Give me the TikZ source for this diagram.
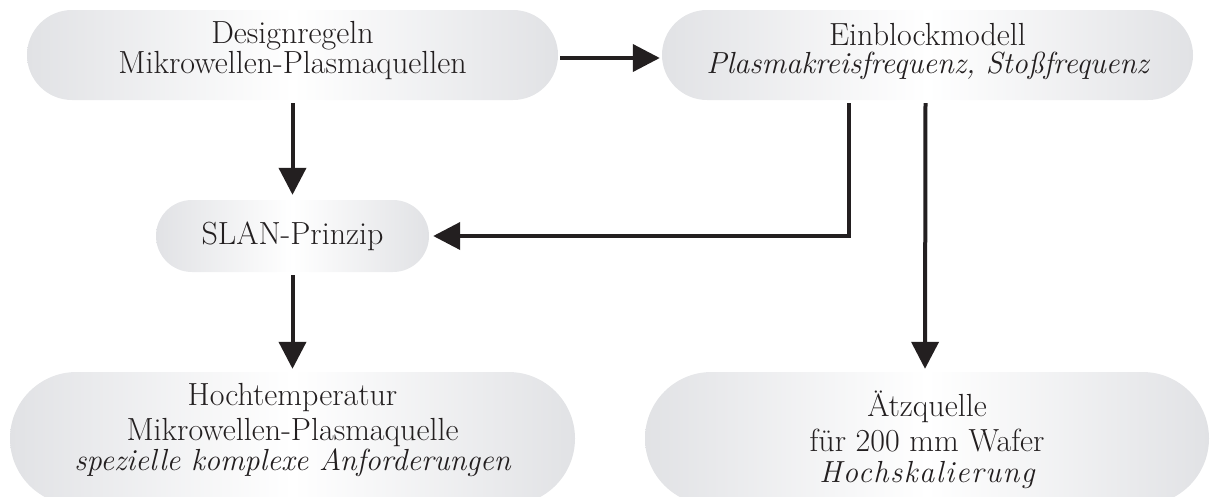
\documentclass[tikz,border=0pt]{standalone}
\usepackage{fontspec}
\usetikzlibrary{arrows.meta}
\definecolor{edgegray}{RGB}{225,226,229}
\definecolor{ink}{RGB}{35,31,32}
\newfontfamily\spacedfont[LetterSpace=5]{Latin Modern Roman}
\newcommand{\itl}{\fontsize{30.5pt}{28pt}\selectfont\itshape}
\newcommand{\itlsp}{\fontsize{30.5pt}{28pt}\spacedfont\itshape}
\tikzset{
  pill/.style={shape=rectangle, rounded corners=#1, minimum height=2*#1,
    left color=edgegray, right color=edgegray, middle color=white,
    inner sep=0pt, align=center, text=ink},
  toptxt/.style={font=\fontsize{32pt}{28pt}\selectfont},
  bottxt/.style={font=\fontsize{32pt}{35pt}\selectfont},
  flow/.style={line width=4pt, draw=ink, -{Triangle[length=27pt,width=27pt]}},
}
\begin{document}
\begin{tikzpicture}[x=1pt,y=-1pt]
\useasboundingbox (0,0) rectangle (1210,496);
\clip (0,0) rectangle (1210,496);
\node[pill=45pt, toptxt, minimum width=531pt, text height=63pt, text depth=27pt] (b1) at (292.5,55)
  {Designregeln\\Mikrowellen-Plasmaquellen};
\node[pill=45pt, toptxt, minimum width=531pt, text height=63pt, text depth=27pt] (b2) at (927.5,55)
  {Einblockmodell\\\itl Plasmakreisfrequenz, Stoßfrequenz};
\node[pill=36pt, toptxt, minimum width=273pt] (s) at (292.5,236)
  {SLAN-Prinzip};
\node[pill=66.5pt, bottxt, minimum width=565pt, text height=98pt, text depth=35pt] (b3) at (292.5,438.5)
  {Hochtemperatur\\Mikrowellen-Plasmaquelle\\[-5pt]\itl spezielle komplexe Anforderungen};
\node[pill=66.5pt, bottxt, minimum width=564pt, text height=110pt, text depth=23pt] (b4) at (927,438.5)
  {Ätzquelle\\für 200 mm Wafer\\[-4pt]\itlsp Hochskalierung};
\draw[flow, shorten <=2pt, shorten >=2pt] ([yshift=-3pt]b1.east) -- ([yshift=-3pt]b2.west);
\draw[flow, shorten <=3pt, shorten >=5pt] (b1.south) -- (s.north);
\draw[flow, shorten <=3pt, shorten >=4pt] ([xshift=-78.5pt]b2.south) |- (s.east);
\draw[flow, shorten <=3pt, shorten >=3pt] ([xshift=-2pt]b2.south) -- ([xshift=-2pt]b4.north);
\draw[flow, shorten <=3pt, shorten >=3pt] (s.south) -- (b3.north);
\end{tikzpicture}
\end{document}
